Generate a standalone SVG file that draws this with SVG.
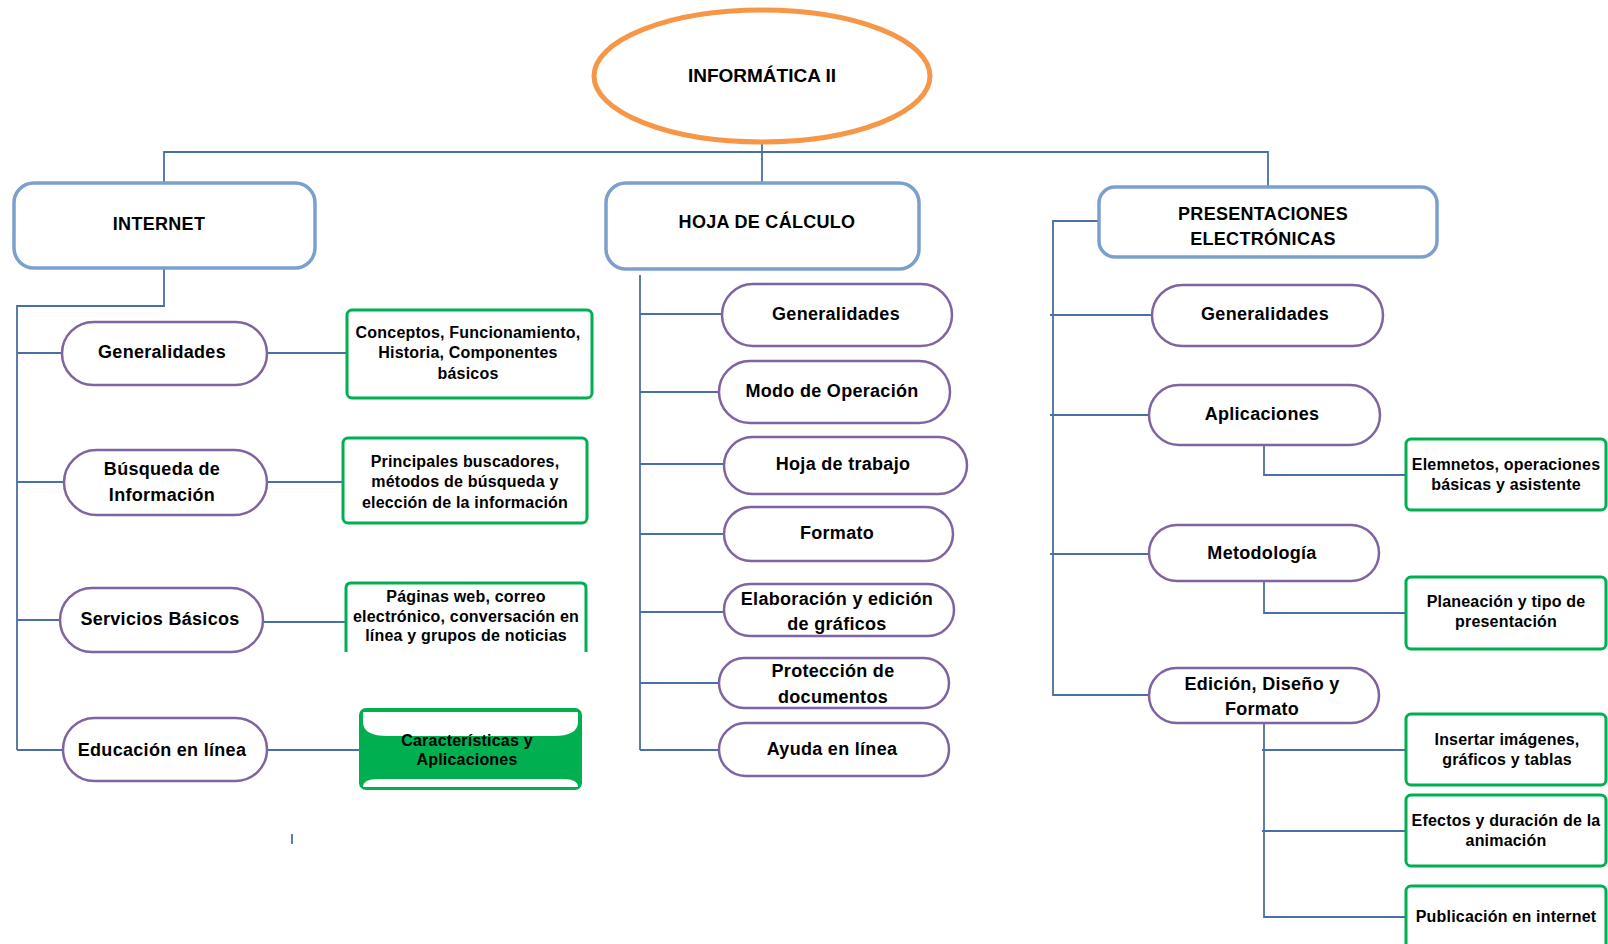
<svg xmlns="http://www.w3.org/2000/svg" width="1608" height="944" viewBox="0 0 1608 944">
<style>
text{font-family:"Liberation Sans",Arial,sans-serif;font-weight:bold;fill:#000;text-anchor:middle}
.t18{font-size:18px;letter-spacing:0.3px}
.t16{font-size:16px;letter-spacing:0.2px}
.pill{fill:#fff;stroke:#8064A2;stroke-width:2.5}
.top{fill:#fff;stroke:#7BA0CD;stroke-width:3.5}
.gbox{fill:#fff;stroke:#00B050;stroke-width:3}
.conn{fill:none;stroke:#4A6FA5;stroke-width:1.8}
</style>
<g id="connectors">
<path class="conn" d="M164,182 V152 H1268 V186 M762,143 V182"/>
<path class="conn" d="M164,268 V306 H17 V750 M17,353 H62 M17,482 H64 M17,620 H60 M17,750 H63"/>
<path class="conn" d="M267,353 H347 M267,482 H343 M263,622 H346 M267,750 H360"/>
<path class="conn" d="M292,834 V844"/>
<path class="conn" d="M640,275 V750 M640,314 H722 M640,392 H719 M640,464 H724 M640,534 H724 M640,612 H724 M640,683 H719 M640,750 H719"/>
<path class="conn" d="M1098,221 H1053 V696 M1050,315 H1152 M1050,415 H1149 M1050,554 H1149 M1053,695 H1149"/>
<path class="conn" d="M1264,445 V475 H1406 M1264,581 V613 H1406 M1264,723 V917 H1406 M1262,750 H1406 M1262,831 H1406"/>
</g>
<g id="root">
<ellipse cx="762" cy="76" rx="168" ry="66" fill="#fff" stroke="#F79646" stroke-width="5"/>
<text x="762" y="82" style="font-size:19px">INFORMÁTICA II</text>
</g>
<g id="internet">
<rect class="top" x="14" y="183" width="301" height="85" rx="20"/>
<text class="t18" x="159" y="230">INTERNET</text>
</g>
<g id="hoja">
<rect class="top" x="606" y="183" width="313" height="86" rx="20"/>
<text class="t18" x="767" y="228">HOJA DE CÁLCULO</text>
</g>
<g id="presentaciones">
<rect class="top" x="1099" y="187" width="338" height="70" rx="16"/>
<text class="t18" x="1263" y="220">PRESENTACIONES</text>
<text class="t18" x="1263" y="245">ELECTRÓNICAS</text>
</g>
<g id="int-generalidades">
<rect class="pill" x="62" y="322" width="205" height="63" rx="31.5"/>
<text class="t18" x="162" y="358">Generalidades</text>
</g>
<g id="int-busqueda">
<rect class="pill" x="64" y="450" width="203" height="65" rx="32.5"/>
<text class="t18" x="162" y="475">Búsqueda de</text>
<text class="t18" x="162" y="501">Información</text>
</g>
<g id="int-servicios">
<rect class="pill" x="60" y="588" width="203" height="64" rx="32"/>
<text class="t18" x="160" y="625">Servicios Básicos</text>
</g>
<g id="int-educacion">
<rect class="pill" x="63" y="718" width="204" height="63" rx="31.5"/>
<text class="t18" x="162" y="756">Educación en línea</text>
</g>
<g id="int-conceptos">
<rect class="gbox" x="347" y="310" width="245" height="88" rx="5"/>
<text class="t16" x="468" y="338">Conceptos, Funcionamiento,</text>
<text class="t16" x="468" y="358">Historia, Componentes</text>
<text class="t16" x="468" y="379">básicos</text>
</g>
<g id="int-buscadores">
<rect class="gbox" x="343" y="438" width="244" height="85" rx="5"/>
<text class="t16" x="465" y="467">Principales buscadores,</text>
<text class="t16" x="465" y="487">métodos de búsqueda y</text>
<text class="t16" x="465" y="508">elección de la información</text>
</g>
<g id="int-paginas">
<path d="M346,652 V588 Q346,583 351,583 H581 Q586,583 586,588 V652" fill="#fff" stroke="#00B050" stroke-width="3"/>
<text class="t16" x="466" y="602">Páginas web, correo</text>
<text class="t16" x="466" y="622">electrónico, conversación en</text>
<text class="t16" x="466" y="641">línea y grupos de noticias</text>
</g>
<g id="int-caracteristicas">
<rect x="360" y="709" width="221" height="80" rx="6" fill="#00B050" stroke="#00B050" stroke-width="2"/>
<path d="M363,712 H578 V722 Q578,736 553,736 H388 Q363,736 363,722 Z" fill="#fff"/>
<path d="M363,787 Q363,779 378,779 H563 Q578,779 578,787 Z" fill="#fff"/>
<text class="t16" x="467" y="746">Características y</text>
<text class="t16" x="467" y="765">Aplicaciones</text>
</g>
<g id="hoja-generalidades">
<rect class="pill" x="722" y="284" width="230" height="62" rx="31"/>
<text class="t18" x="836" y="320">Generalidades</text>
</g>
<g id="hoja-modo">
<rect class="pill" x="719" y="361" width="231" height="62" rx="31"/>
<text class="t18" x="832" y="397">Modo de Operación</text>
</g>
<g id="hoja-trabajo">
<rect class="pill" x="724" y="437" width="243" height="57" rx="28.5"/>
<text class="t18" x="843" y="470">Hoja de trabajo</text>
</g>
<g id="hoja-formato">
<rect class="pill" x="724" y="507" width="229" height="54" rx="27"/>
<text class="t18" x="837" y="539">Formato</text>
</g>
<g id="hoja-graficos">
<rect class="pill" x="724" y="584" width="230" height="52" rx="26"/>
<text class="t18" x="837" y="605">Elaboración y edición</text>
<text class="t18" x="837" y="630">de gráficos</text>
</g>
<g id="hoja-proteccion">
<rect class="pill" x="719" y="658" width="230" height="50" rx="25"/>
<text class="t18" x="833" y="677">Protección de</text>
<text class="t18" x="833" y="703">documentos</text>
</g>
<g id="hoja-ayuda">
<rect class="pill" x="719" y="723" width="230" height="53" rx="26.5"/>
<text class="t18" x="832" y="755">Ayuda en línea</text>
</g>
<g id="pre-generalidades">
<rect class="pill" x="1152" y="285" width="231" height="61" rx="30.5"/>
<text class="t18" x="1265" y="320">Generalidades</text>
</g>
<g id="pre-aplicaciones">
<rect class="pill" x="1149" y="385" width="231" height="60" rx="30"/>
<text class="t18" x="1262" y="420">Aplicaciones</text>
</g>
<g id="pre-metodologia">
<rect class="pill" x="1149" y="525" width="230" height="56" rx="28"/>
<text class="t18" x="1262" y="559">Metodología</text>
</g>
<g id="pre-edicion">
<rect class="pill" x="1149" y="668" width="230" height="55" rx="27.5"/>
<text class="t18" x="1262" y="690">Edición, Diseño y</text>
<text class="t18" x="1262" y="715">Formato</text>
</g>
<g id="pre-elementos">
<rect class="gbox" x="1406" y="439" width="200" height="71" rx="5"/>
<text class="t16" x="1506" y="470">Elemnetos, operaciones</text>
<text class="t16" x="1506" y="490">básicas y asistente</text>
</g>
<g id="pre-planeacion">
<rect class="gbox" x="1406" y="577" width="200" height="72" rx="5"/>
<text class="t16" x="1506" y="607">Planeación y tipo de</text>
<text class="t16" x="1506" y="627">presentación</text>
</g>
<g id="pre-insertar">
<rect class="gbox" x="1406" y="714" width="200" height="71" rx="5"/>
<text class="t16" x="1507" y="745">Insertar imágenes,</text>
<text class="t16" x="1507" y="765">gráficos y tablas</text>
</g>
<g id="pre-efectos">
<rect class="gbox" x="1406" y="795" width="200" height="71" rx="5"/>
<text class="t16" x="1506" y="826">Efectos y duración de la</text>
<text class="t16" x="1506" y="846">animación</text>
</g>
<g id="pre-publicacion">
<rect class="gbox" x="1406" y="886" width="200" height="80" rx="5"/>
<text class="t16" x="1506" y="922">Publicación en internet</text>
</g>
</svg>
